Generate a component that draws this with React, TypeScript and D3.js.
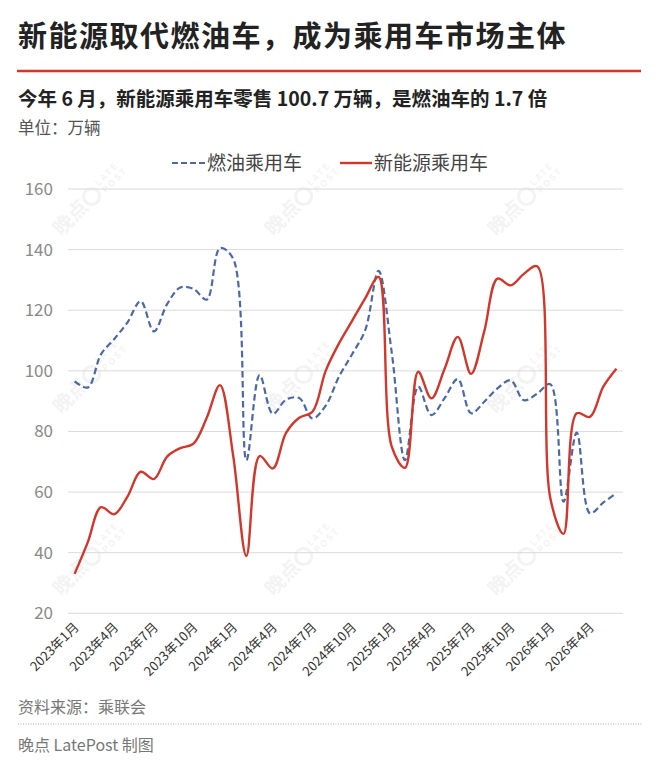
import React from "react";
import * as d3 from "d3";

// monthly retail sales, 万辆
const years = [2023, 2024, 2025, 2026];
const months = years
  .flatMap((y) => d3.range(1, 13).map((m) => `${y}年${m}月`))
  .slice(0, 42);

const fuelCars = [
  96.5, 94.5, 105.5, 110.5, 116, 123, 113, 122, 127.5, 127, 123.5, 140.5,
  137, 70.5, 98.6, 85.8, 90.5, 91, 84.3, 88.5, 98, 105.5, 113.5, 133,
  106, 70.5, 94.8, 85.4, 91, 97.3, 86, 89.8, 94.2, 96.9, 90.3, 92.5,
  95.6, 56.8, 79.6, 53, 56.5, 59.6,
];

const nevCars = [
  33, 43.5, 55, 52.7, 58.5, 66.7, 64.3, 71.7, 74.5, 76, 84.5, 95.3,
  72, 38.9, 71.9, 67.8, 79.5, 84.5, 86.5, 100, 109, 116.5, 124, 131,
  75, 68, 99.7, 90.9, 100.7, 111.2, 99, 113, 130.4, 128.2, 132, 134.5,
  58, 46.2, 86, 84.8, 94.7, 100.7,
];

const tickLabels = [
  "2023年1月", "2023年4月", "2023年7月", "2023年10月",
  "2024年1月", "2024年4月", "2024年7月", "2024年10月",
  "2025年1月", "2025年4月", "2025年7月", "2025年10月",
  "2026年1月", "2026年4月",
];

const yTicks = [20, 40, 60, 80, 100, 120, 140, 160];

const FONT = "'Noto Sans CJK SC', 'Noto Sans', sans-serif";
const RED = "#d2372c";
const BLUE = "#4c69a3";

const Watermark: React.FC<{ x: number; y: number }> = ({ x, y }) => (
  <g transform={`translate(${x},${y}) rotate(-45)`} fill="#000" opacity={0.045}>
    <text x={-52} y={7} fontSize={20} fontWeight={700} fontFamily={FONT}>
      晚点
    </text>
    <circle cx={-2} cy={0} r={8} fill="none" stroke="#000" strokeWidth={3} />
    <text x={10} y={-2} fontSize={9} fontWeight={700} fontFamily={FONT} letterSpacing={2}>
      LATE
    </text>
    <text x={10} y={8} fontSize={9} fontWeight={700} fontFamily={FONT} letterSpacing={2}>
      POST
    </text>
  </g>
);

const App: React.FC = () => {
  const width = 660;
  const height = 763;
  const left = 68;
  const right = 623;

  const x = d3.scalePoint<string>().domain(months).range([left, right]).padding(0.5);
  const y = d3.scaleLinear().domain([20, 160]).range([613.3, 189]);

  const line = d3
    .line<number>()
    .x((_, i) => x(months[i])!)
    .y((d) => y(d))
    .curve(d3.curveCatmullRom.alpha(0.5));

  const marks = [
    [93, 195], [305, 195], [528, 195],
    [93, 373], [305, 373], [528, 373],
    [93, 555], [305, 555], [528, 555],
  ];

  return (
    <div style={{ position: "absolute", left: 0, top: 0 }}>
      <svg width={width} height={height} style={{ display: "block", background: "#fff" }}>
        <text x={18} y={47} fontSize={29} fontWeight={700} fill="#222" fontFamily={FONT} letterSpacing={1.5}>
          新能源取代燃油车，成为乘用车市场主体
        </text>
        <line x1={17} x2={641} y1={71} y2={71} stroke={RED} strokeWidth={2.5} />
        <text x={18} y={106} fontSize={19.5} fontWeight={700} fill="#222" fontFamily={FONT}>
          今年 6 月，新能源乘用车零售 100.7 万辆，是燃油车的 1.7 倍
        </text>
        <text x={18} y={134} fontSize={16.5} fill="#555" fontFamily={FONT}>
          单位：万辆
        </text>

        {marks.map(([mx, my], i) => (
          <Watermark key={i} x={mx} y={my} />
        ))}

        {/* legend */}
        <g fontFamily={FONT} fontSize={19} fill="#444">
          <line x1={172} x2={205} y1={163} y2={163} stroke={BLUE} strokeWidth={2.2} strokeDasharray="6,3" />
          <text x={207} y={163} dy="0.35em">燃油乘用车</text>
          <line x1={340} x2={372} y1={163} y2={163} stroke={RED} strokeWidth={2.4} />
          <text x={374} y={163} dy="0.35em">新能源乘用车</text>
        </g>

        {/* grid + y labels */}
        {yTicks.map((t) => (
          <g key={t}>
            <line x1={left} x2={right} y1={y(t)} y2={y(t)} stroke="#dadada" strokeWidth={1} />
            <text x={53} y={y(t)} dy="0.35em" textAnchor="end" fontSize={17} fill="#8a8a8a" fontFamily={FONT}>
              {t}
            </text>
          </g>
        ))}

        {/* x labels */}
        {tickLabels.map((t) => (
          <text
            key={t}
            transform={`translate(${x(t)! + 5},${628}) rotate(-45)`}
            textAnchor="end"
            fontSize={13}
            fill="#333"
            fontFamily={FONT}
          >
            {t}
          </text>
        ))}

        <path d={line(fuelCars) ?? ""} fill="none" stroke={BLUE} strokeWidth={2.2} strokeDasharray="6.5,3.5" />
        <path d={line(nevCars) ?? ""} fill="none" stroke={RED} strokeWidth={2.4} />

        {/* footer */}
        <text x={18} y={713} fontSize={16} fill="#777" fontFamily={FONT}>
          资料来源：乘联会
        </text>
        <line x1={18} x2={642} y1={724} y2={724} stroke="#aaa" strokeWidth={1} strokeDasharray="1,1.5" />
        <text x={18} y={751} fontSize={16} fill="#777" fontFamily={FONT}>
          晚点 LatePost 制图
        </text>
      </svg>
    </div>
  );
};

export default App;
